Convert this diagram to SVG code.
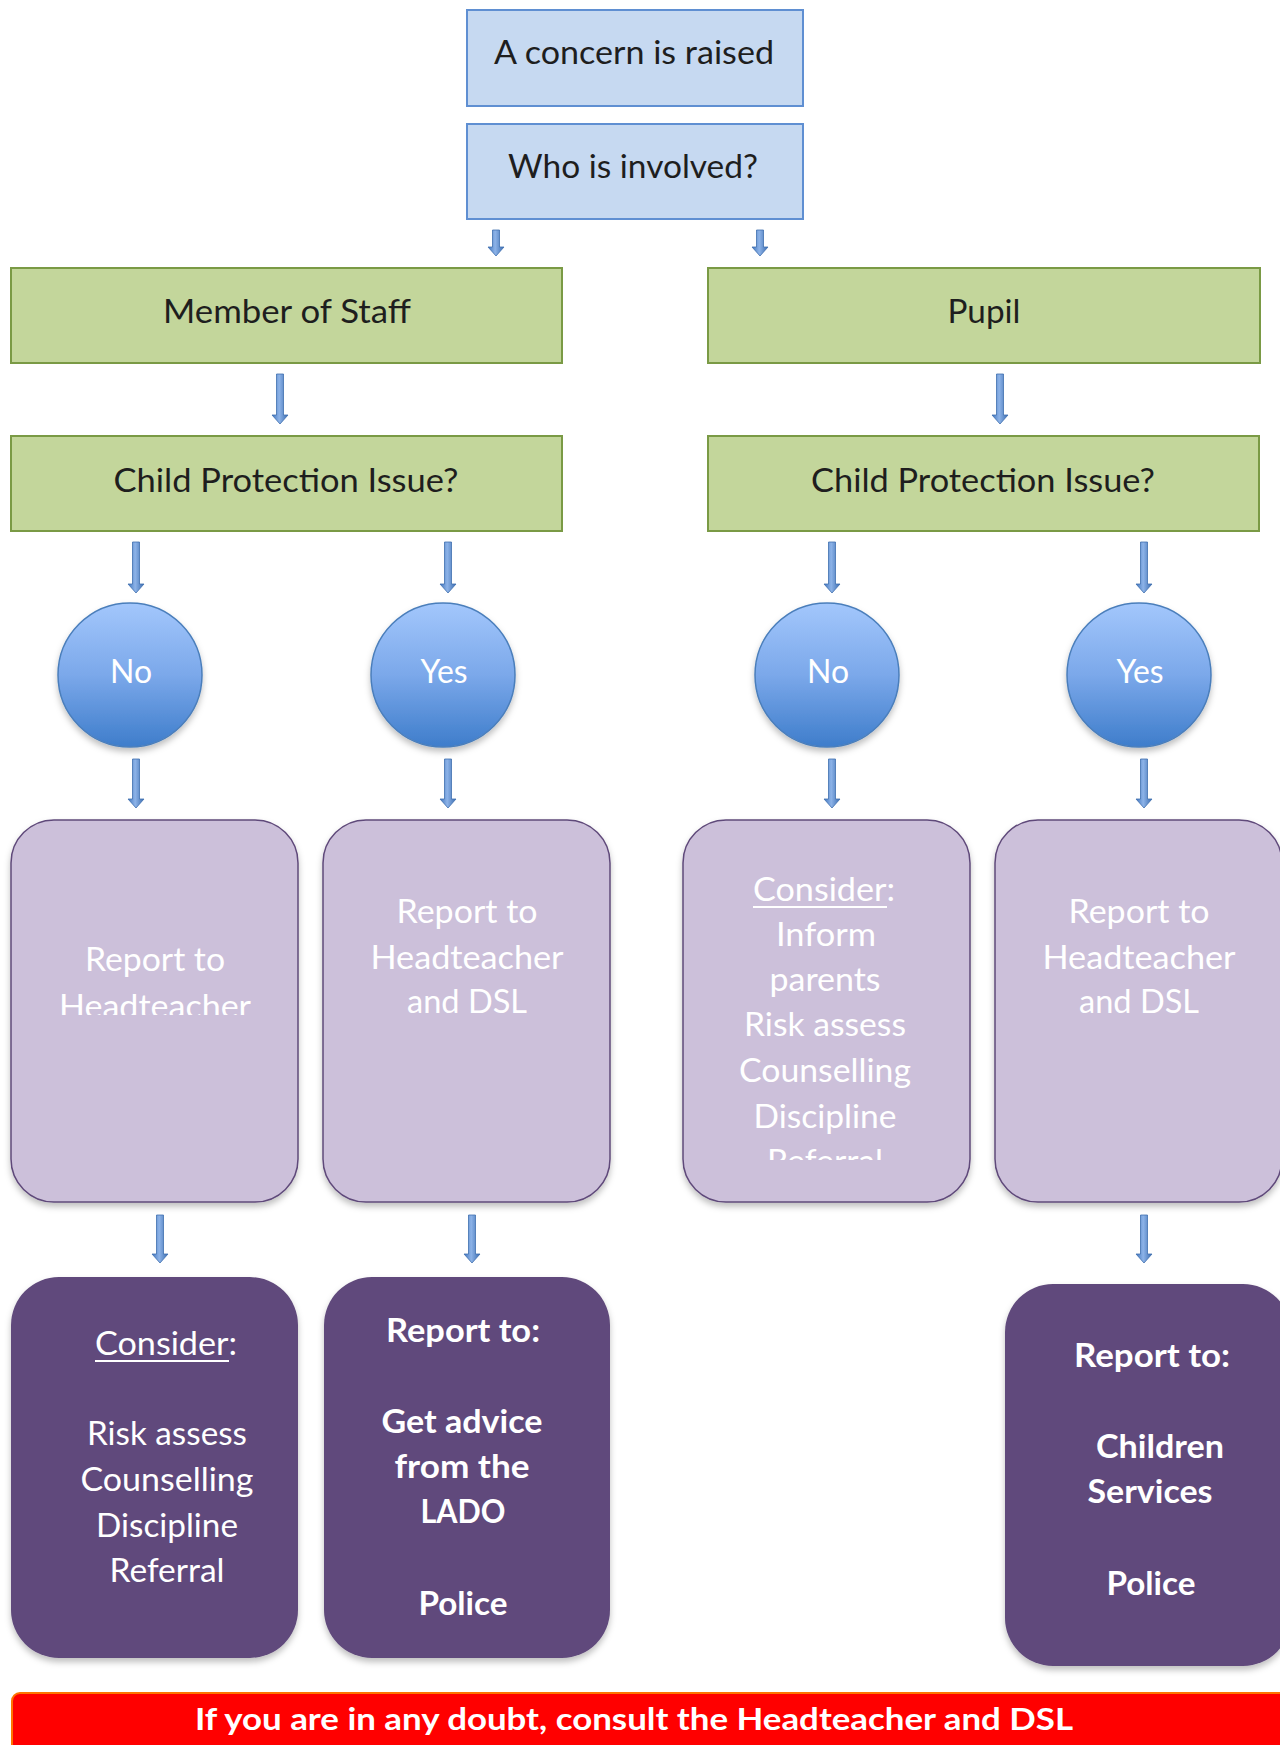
<svg xmlns="http://www.w3.org/2000/svg" width="1280" height="1745" viewBox="0 0 1280 1745">
<style>
.blue{fill:#C6D9F1;stroke:#5F8FD2;stroke-width:2}
.green{fill:#C3D69B;stroke:#7A9A45;stroke-width:2}
.lilac{fill:#CCC0DA;stroke:#5F497A;stroke-width:1.5}
.plum{fill:#604A7B}
.circ{fill:url(#cg);stroke:#4A7EBB;stroke-width:1.5}
.arr{fill:url(#ag);stroke:#3F6FAE;stroke-width:0.8}
text{font-family:Lato,"Open Sans","Liberation Sans",sans-serif;text-anchor:middle}
.dk{fill:#1E1E1E;font-size:32px}
.wt{fill:#FFFFFF;font-size:33px}
.wb{fill:#FFFFFF;font-size:32px;font-weight:bold}
.ban{fill:#FFFFFF;font-size:31px;font-weight:bold}
</style>
<defs>
<linearGradient id="cg" x1="0" y1="0" x2="0" y2="1">
<stop offset="0" stop-color="#A3C7FC"/>
<stop offset="0.5" stop-color="#7BA8EA"/>
<stop offset="1" stop-color="#3E7DCB"/>
</linearGradient>
<linearGradient id="ag" x1="0" y1="0" x2="1" y2="0">
<stop offset="0" stop-color="#3F74BC"/>
<stop offset="0.45" stop-color="#8DB3E8"/>
<stop offset="1" stop-color="#3A6CB0"/>
</linearGradient>
<filter id="sh" x="-10%" y="-10%" width="120%" height="125%">
<feDropShadow dx="0" dy="4" stdDeviation="3" flood-color="#000" flood-opacity="0.25"/>
</filter>
<clipPath id="clip1"><rect x="11" y="820" width="288" height="195"/></clipPath>
<clipPath id="clip3"><rect x="683" y="820" width="288" height="340"/></clipPath>
</defs>

<g id="connectors">
<path class="arr" d="M492.5,230 H499.5 V247 H504 L496,256 L488,247 H492.5 Z"/>
<path class="arr" d="M756.5,230 H763.5 V247 H768 L760,256 L752,247 H756.5 Z"/>
<path class="arr" d="M276.5,374 H283.5 V415 H288 L280,424 L272,415 H276.5 Z"/>
<path class="arr" d="M996.5,374 H1003.5 V415 H1008 L1000,424 L992,415 H996.5 Z"/>
<path class="arr" d="M132.5,542 H139.5 V584 H144 L136,593 L128,584 H132.5 Z"/>
<path class="arr" d="M444.5,542 H451.5 V584 H456 L448,593 L440,584 H444.5 Z"/>
<path class="arr" d="M828.5,542 H835.5 V584 H840 L832,593 L824,584 H828.5 Z"/>
<path class="arr" d="M1140.5,542 H1147.5 V584 H1152 L1144,593 L1136,584 H1140.5 Z"/>
<path class="arr" d="M132.5,759 H139.5 V799 H144 L136,808 L128,799 H132.5 Z"/>
<path class="arr" d="M444.5,759 H451.5 V799 H456 L448,808 L440,799 H444.5 Z"/>
<path class="arr" d="M828.5,759 H835.5 V799 H840 L832,808 L824,799 H828.5 Z"/>
<path class="arr" d="M1140.5,759 H1147.5 V799 H1152 L1144,808 L1136,799 H1140.5 Z"/>
<path class="arr" d="M156.5,1215 H163.5 V1254 H168 L160,1263 L152,1254 H156.5 Z"/>
<path class="arr" d="M468.5,1215 H475.5 V1254 H480 L472,1263 L464,1254 H468.5 Z"/>
<path class="arr" d="M1140.5,1215 H1147.5 V1254 H1152 L1144,1263 L1136,1254 H1140.5 Z"/>
</g>

<g id="concern">
<rect class="blue" x="467" y="10" width="336" height="96"/>
<text class="dk" x="634" y="64" textLength="280" lengthAdjust="spacingAndGlyphs">A concern is raised</text>
</g>
<g id="who">
<rect class="blue" x="467" y="124" width="336" height="95"/>
<text class="dk" x="633" y="178" textLength="250" lengthAdjust="spacingAndGlyphs">Who is involved?</text>
</g>

<g id="staff">
<rect class="green" x="11" y="268" width="551" height="95"/>
<text class="dk" x="287" y="323" textLength="248" lengthAdjust="spacingAndGlyphs">Member of Staff</text>
</g>
<g id="pupil">
<rect class="green" x="708" y="268" width="552" height="95"/>
<text class="dk" x="984" y="323" textLength="73" lengthAdjust="spacingAndGlyphs">Pupil</text>
</g>
<g id="cp-staff">
<rect class="green" x="11" y="436" width="551" height="95"/>
<text class="dk" x="286" y="492" textLength="345" lengthAdjust="spacingAndGlyphs">Child Protection Issue?</text>
</g>
<g id="cp-pupil">
<rect class="green" x="708" y="436" width="551" height="95"/>
<text class="dk" x="983" y="492" textLength="344" lengthAdjust="spacingAndGlyphs">Child Protection Issue?</text>
</g>

<g id="no-staff">
<circle class="circ" cx="130" cy="675" r="72" filter="url(#sh)"/>
<text class="wt" x="131" y="683" textLength="42" lengthAdjust="spacingAndGlyphs">No</text>
</g>
<g id="yes-staff">
<circle class="circ" cx="443" cy="675" r="72" filter="url(#sh)"/>
<text class="wt" x="444" y="683" textLength="47" lengthAdjust="spacingAndGlyphs">Yes</text>
</g>
<g id="no-pupil">
<circle class="circ" cx="827" cy="675" r="72" filter="url(#sh)"/>
<text class="wt" x="828" y="683" textLength="42" lengthAdjust="spacingAndGlyphs">No</text>
</g>
<g id="yes-pupil">
<circle class="circ" cx="1139" cy="675" r="72" filter="url(#sh)"/>
<text class="wt" x="1140" y="683" textLength="47" lengthAdjust="spacingAndGlyphs">Yes</text>
</g>

<g id="report-head">
<rect class="lilac" x="11" y="820" width="287" height="382" rx="43" filter="url(#sh)"/>
<g clip-path="url(#clip1)">
<text class="wt" x="155" y="971" textLength="140" lengthAdjust="spacingAndGlyphs">Report to</text>
<text class="wt" x="155" y="1018" textLength="192" lengthAdjust="spacingAndGlyphs">Headteacher</text>
</g>
</g>
<g id="report-head-dsl-staff">
<rect class="lilac" x="323" y="820" width="287" height="382" rx="43" filter="url(#sh)"/>
<text class="wt" x="467" y="923" textLength="141" lengthAdjust="spacingAndGlyphs">Report to</text>
<text class="wt" x="467" y="969" textLength="193" lengthAdjust="spacingAndGlyphs">Headteacher</text>
<text class="wt" x="467" y="1013" textLength="120" lengthAdjust="spacingAndGlyphs">and DSL</text>
</g>
<g id="consider-pupil">
<rect class="lilac" x="683" y="820" width="287" height="382" rx="43" filter="url(#sh)"/>
<g clip-path="url(#clip3)">
<text class="wt" x="824" y="901" textLength="142" lengthAdjust="spacingAndGlyphs">Consider:</text>
<rect x="753" y="906" width="134" height="2" fill="#FFFFFF"/>
<text class="wt" x="826" y="946" textLength="100" lengthAdjust="spacingAndGlyphs">Inform</text>
<text class="wt" x="825" y="991" textLength="111" lengthAdjust="spacingAndGlyphs">parents</text>
<text class="wt" x="825" y="1036" textLength="162" lengthAdjust="spacingAndGlyphs">Risk assess</text>
<text class="wt" x="825" y="1082" textLength="172" lengthAdjust="spacingAndGlyphs">Counselling</text>
<text class="wt" x="825" y="1128" textLength="143" lengthAdjust="spacingAndGlyphs">Discipline</text>
<text class="wt" x="825" y="1173" textLength="116" lengthAdjust="spacingAndGlyphs">Referral</text>
</g>
</g>
<g id="report-head-dsl-pupil">
<rect class="lilac" x="995" y="820" width="287" height="382" rx="43" filter="url(#sh)"/>
<text class="wt" x="1139" y="923" textLength="141" lengthAdjust="spacingAndGlyphs">Report to</text>
<text class="wt" x="1139" y="969" textLength="193" lengthAdjust="spacingAndGlyphs">Headteacher</text>
<text class="wt" x="1139" y="1013" textLength="120" lengthAdjust="spacingAndGlyphs">and DSL</text>
</g>

<g id="consider-staff">
<rect class="plum" x="11" y="1277" width="287" height="381" rx="48" filter="url(#sh)"/>
<text class="wt" x="166" y="1355" textLength="142" lengthAdjust="spacingAndGlyphs">Consider:</text>
<rect x="95" y="1360" width="134" height="2" fill="#FFFFFF"/>
<text class="wt" x="167" y="1445" textLength="160" lengthAdjust="spacingAndGlyphs">Risk assess</text>
<text class="wt" x="167" y="1491" textLength="173" lengthAdjust="spacingAndGlyphs">Counselling</text>
<text class="wt" x="167" y="1537" textLength="142" lengthAdjust="spacingAndGlyphs">Discipline</text>
<text class="wt" x="167" y="1582" textLength="115" lengthAdjust="spacingAndGlyphs">Referral</text>
</g>
<g id="lado">
<rect class="plum" x="324" y="1277" width="286" height="381" rx="48" filter="url(#sh)"/>
<text class="wb" x="463" y="1342" textLength="154" lengthAdjust="spacingAndGlyphs">Report to:</text>
<text class="wb" x="462" y="1433" textLength="161" lengthAdjust="spacingAndGlyphs">Get advice</text>
<text class="wb" x="462" y="1478" textLength="135" lengthAdjust="spacingAndGlyphs">from the</text>
<text class="wb" x="463" y="1523" textLength="85" lengthAdjust="spacingAndGlyphs">LADO</text>
<text class="wb" x="463" y="1615" textLength="89" lengthAdjust="spacingAndGlyphs">Police</text>
</g>
<g id="children-services">
<rect class="plum" x="1005" y="1284" width="286" height="382" rx="48" filter="url(#sh)"/>
<text class="wb" x="1152" y="1367" textLength="156" lengthAdjust="spacingAndGlyphs">Report to:</text>
<text class="wb" x="1160" y="1458" textLength="128" lengthAdjust="spacingAndGlyphs">Children</text>
<text class="wb" x="1150" y="1503" textLength="125" lengthAdjust="spacingAndGlyphs">Services</text>
<text class="wb" x="1151" y="1595" textLength="89" lengthAdjust="spacingAndGlyphs">Police</text>
</g>

<g id="banner">
<rect x="12" y="1693" width="1300" height="80" rx="8" fill="#FF0000" stroke="#FF7300" stroke-width="2"/>
<text class="ban" x="634" y="1730" textLength="878" lengthAdjust="spacingAndGlyphs">If you are in any doubt, consult the Headteacher and DSL</text>
</g>
</svg>
